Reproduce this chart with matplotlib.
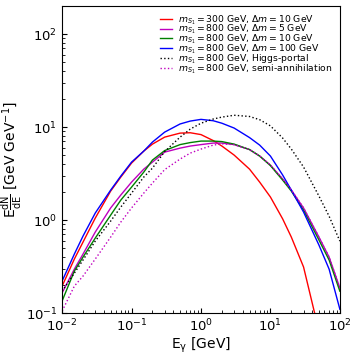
import numpy as np
import matplotlib
matplotlib.use("Agg")
import matplotlib.pyplot as plt

E = [0.01, 0.015, 0.02, 0.03, 0.05, 0.07, 0.1, 0.15, 0.2, 0.3, 0.5, 0.7,
     1, 1.5, 2, 3, 5, 7, 10, 15, 20, 30, 50, 70, 100]

red = [0.195, 0.381, 0.580, 1.05, 2.05, 2.90, 4.10, 5.52, 6.56, 7.80, 8.61, 8.69,
       8.30, 7.16, 6.25, 5.00, 3.53, 2.56, 1.77, 1.03, 0.656, 0.313, 0.064, 0.02, 0.005]
magenta = [0.165, 0.297, 0.431, 0.743, 1.35, 1.86, 2.56, 3.53, 4.20, 5.38, 5.94, 6.25,
           6.48, 6.73, 6.73, 6.48, 5.73, 4.88, 3.90, 2.76, 2.10, 1.35, 0.656, 0.400, 0.186]
green = [0.135, 0.283, 0.400, 0.640, 1.13, 1.64, 2.26, 3.28, 4.42, 5.59, 6.48, 6.81,
         7.07, 7.07, 6.98, 6.56, 5.73, 4.88, 3.85, 2.69, 2.05, 1.28, 0.610, 0.372, 0.172]
blue = [0.221, 0.431, 0.673, 1.19, 2.10, 2.97, 4.20, 5.52, 6.90, 8.83, 10.8, 11.6,
        12.1, 11.7, 11.0, 9.76, 7.71, 6.40, 4.88, 3.05, 2.10, 1.22, 0.538, 0.297, 0.11]
higgs = [0.172, 0.269, 0.372, 0.594, 0.975, 1.38, 1.95, 2.90, 3.62, 5.45, 7.80, 9.51,
         11.0, 12.2, 12.8, 13.4, 13.0, 12.0, 10.3, 7.62, 5.80, 3.72, 1.81, 1.10, 0.594]
semi = [0.105, 0.195, 0.250, 0.381, 0.656, 0.951, 1.35, 1.95, 2.50, 3.49, 4.53, 5.25,
        5.80, 6.40, 6.60, 6.48, 5.73, 4.88, 3.90, 2.76, 2.10, 1.35, 0.656, 0.400, 0.186]

labels = [
    r"$m_{S_1} = 300$ GeV, $\Delta m = 10$ GeV",
    r"$m_{S_1} = 800$ GeV, $\Delta m = 5$ GeV",
    r"$m_{S_1} = 800$ GeV, $\Delta m = 10$ GeV",
    r"$m_{S_1} = 800$ GeV, $\Delta m = 100$ GeV",
    r"$m_{S_1} = 800$ GeV, Higgs-portal",
    r"$m_{S_1} = 800$ GeV, semi-annihilation",
]

fig = plt.figure(figsize=(3.57, 3.57), dpi=100)
ax = fig.add_axes([0.174, 0.123, 0.778, 0.860])

ax.plot(E, red, color="red", lw=1.0, label=labels[0])
ax.plot(E, magenta, color="m", lw=1.0, label=labels[1])
ax.plot(E, green, color="green", lw=1.0, label=labels[2])
ax.plot(E, blue, color="blue", lw=1.0, label=labels[3])
ax.plot(E, higgs, color="black", lw=1.0, ls=":", label=labels[4])
ax.plot(E, semi, color="m", lw=1.0, ls=":", label=labels[5])

ax.set_xscale("log")
ax.set_yscale("log")
ax.set_xlim(1e-2, 1e2)
ax.set_ylim(1e-1, 200)
ax.tick_params(which="both", direction="in", labelsize=9.5)
ax.tick_params(which="major", length=3.5)
ax.tick_params(which="minor", length=2)

ax.set_xlabel(r"$\mathrm{E_{\gamma}}$ [GeV]", fontsize=10, labelpad=1)
ax.set_ylabel(r"$\mathrm{E\frac{dN}{dE}}$ [GeV GeV$^{-1}$]", fontsize=10, labelpad=1)

leg = ax.legend(loc="upper right", frameon=False, fontsize=6.7, handlelength=1.3,
                handletextpad=0.7, labelspacing=-0.4, borderaxespad=0.35)

fig.savefig("out.png", dpi=100)
